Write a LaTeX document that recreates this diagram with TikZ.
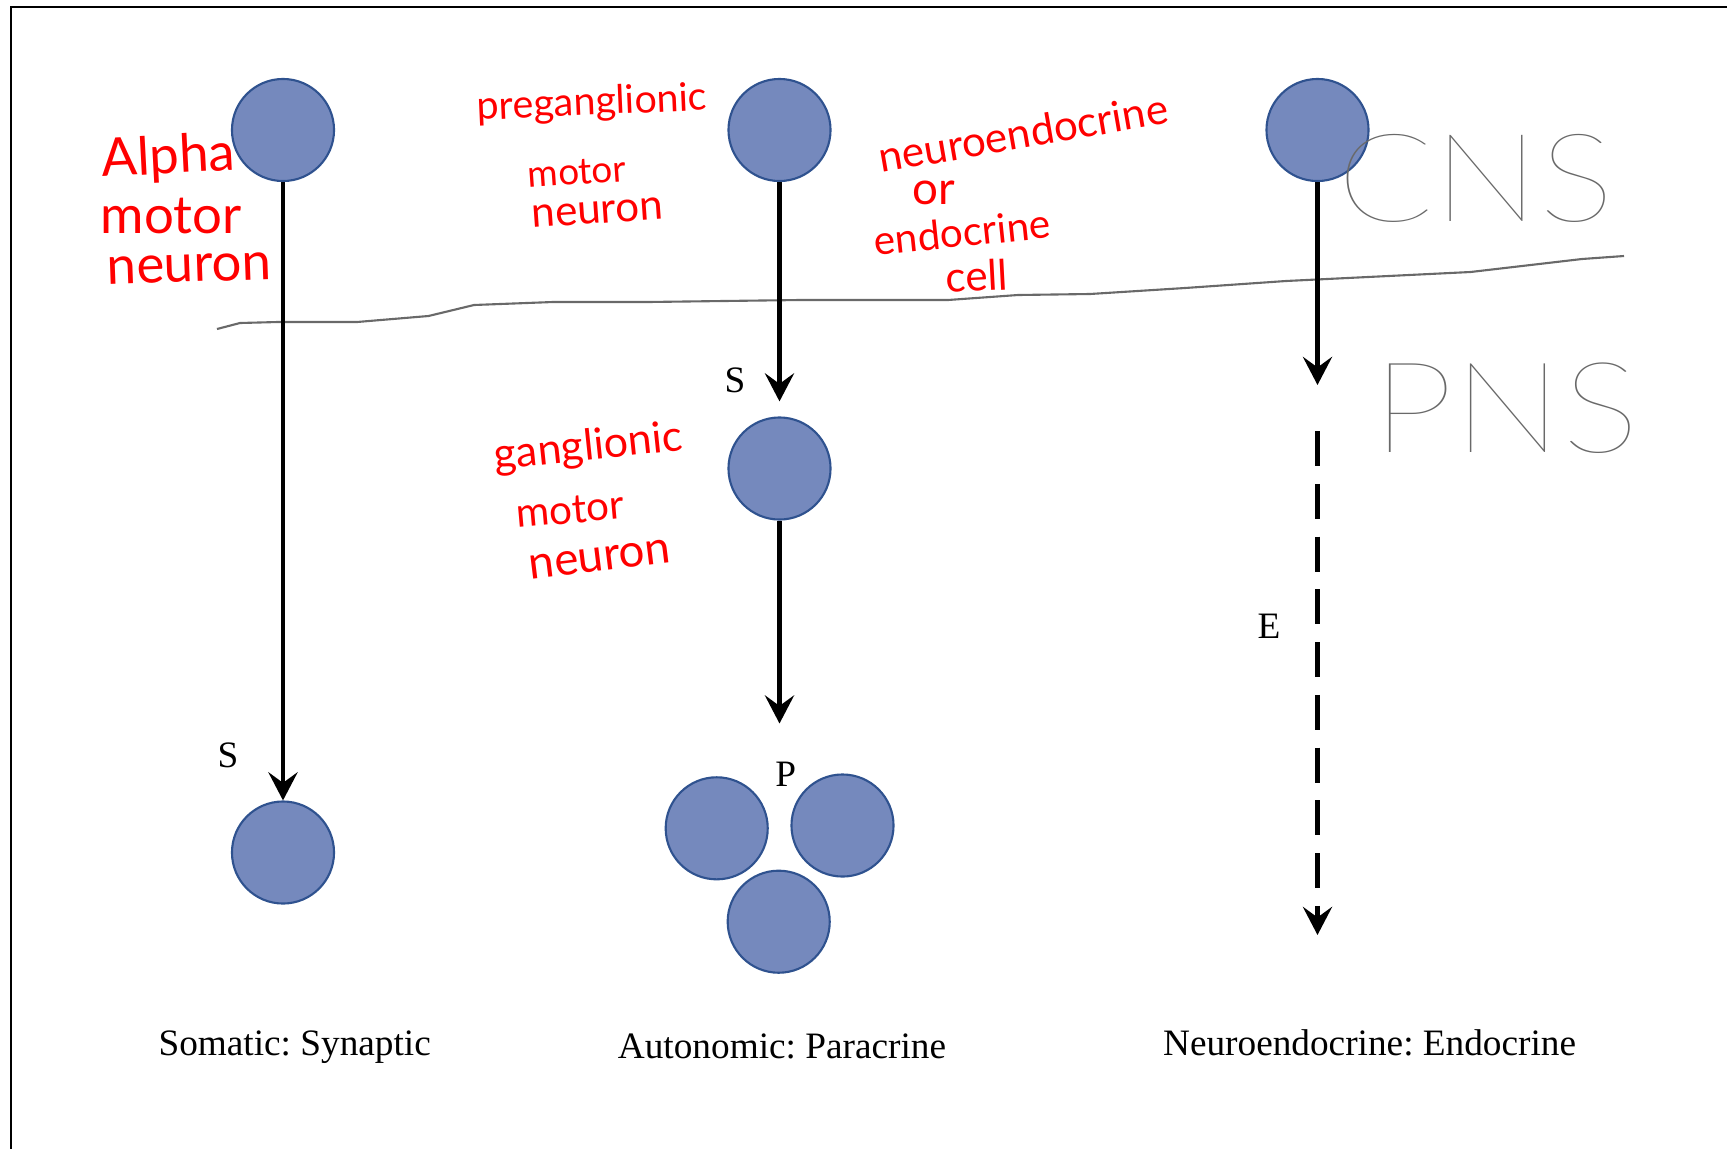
\documentclass[tikz,border=0pt]{standalone}
\usepackage{fontspec}
\setmainfont{Liberation Serif}
\newfontfamily\handfont{Lato}
\newfontfamily\thinfont{Lato Hairline}[FakeStretch=1.15]
\usetikzlibrary{arrows.meta,positioning}
\frenchspacing

\definecolor{cellfill}{RGB}{117,137,189}
\definecolor{cellline}{RGB}{47,82,143}
\definecolor{pengray}{RGB}{105,105,105}

\begin{document}
\begin{tikzpicture}[x=0.01cm, y=-0.01cm,
            cell/.style={circle, draw=cellline, fill=cellfill, line width=0.6pt, minimum size=1.02cm, inner sep=0pt},
            signal/.style={line width=1.3pt, -{Stealth[length=8pt, width=8.3pt, inset=3pt]}},
            lbl/.style={font=\fontsize{10.6}{13}\selectfont, inner sep=0pt},
            note/.style={text=red, anchor=base west, inner sep=0pt, font=\handfont\fontsize{#1}{#1}\selectfont},
            region/.style={text=pengray, anchor=base, inner sep=0pt, font=\thinfont\fontsize{#1}{#1}\selectfont}]
            \useasboundingbox (0,0) rectangle (1727,1148);
            \fill [white] (0,0) rectangle (1727,1148);
            \draw [line width=0.65pt] (1760,7) -- (11,7) -- (11,1180);

            % CNS / PNS border
            \draw [pengray, line width=0.6pt] (217,329) -- (240,323) -- (278,322) -- (357,322) -- (428.5,316) -- (474,305) -- (553,302) -- (648,302) -- (800,300) -- (948,300) -- (1018,295) -- (1090,294) -- (1185,288) -- (1286,281) -- (1470.5,272) -- (1582,259) -- (1624,256);

            \node (alpha) [cell] at (283,130) {};
            \node (muscle) [cell] at (283,852.5) {};
            \node (pregang) [cell] at (779.5,130) {};
            \node (gang) [cell] at (779.5,468.5) {};
            \node (target1) [cell] at (716.7,828.3) {};
            \node (target2) [cell] at (842.5,825.5) {};
            \node (target3) [cell] at (778.7,921.7) {};
            \node (neuroendo) [cell] at (1317.5,130) {};

            \coordinate (paraend) at (779.5,723.5);
            \coordinate (axonend) at (1317.5,385);
            \coordinate (bloodtop) at (1317.5,431);
            \coordinate (bloodend) at (1317.5,935);

            \draw [signal] (alpha) -- (muscle);
            \draw [signal, shorten >=0.15cm] (pregang) -- (gang);
            \draw [signal] (gang) -- (paraend);
            \draw [signal] (neuroendo) -- (axonend);
            \draw [signal, dash pattern=on 10pt off 5pt] (bloodtop) -- (bloodend);

            \node (synS) [lbl] at (228,755) {S};
            \node (gangS) [lbl] at (735,380) {S};
            \node (paraP) [lbl] at (785.7,774) {P};
            \node (endoE) [lbl] at (1269,626) {E};

            \node (somatic) [lbl, anchor=base] at (294.7,1055) {Somatic: Synaptic};
            \node (autonomic) [lbl, anchor=base] at (782,1058) {Autonomic: Paracrine};
            \node (endocrine) [lbl, anchor=base] at (1369.6,1055) {Neuroendocrine: Endocrine};

            \node (cns) [region=35] at (1476,221) {CNS};
            \node (pns) [region=36] at (1506,452) {PNS};

            % handwritten notes
            \node (alphaA) [note=15, rotate=3] at (102,177) {Alpha};
            \node (alphaB) [note=15] at (100,233) {motor};
            \node (alphaC) [note=15, rotate=2] at (107,285) {neuron};

            \node (preA) [note=11.2, rotate=2.5] at (477,120) {preganglionic};
            \node (preB) [note=10.5, rotate=4] at (528,188) {motor};
            \node (preC) [note=12, rotate=4] at (532,228) {neuron};

            \node (endoA) [note=12, rotate=9.8] at (881,173) {neuroendocrine};
            \node (endoB) [note=13] at (912,204) {or};
            \node (endoC) [note=11.5, rotate=6] at (875,256) {endocrine};
            \node (endoD) [note=12, rotate=3] at (946,293) {cell};

            \node (gangA) [note=12.2, rotate=6] at (495,470) {ganglionic};
            \node (gangB) [note=11.5, rotate=5] at (517,528) {motor};
            \node (gangC) [note=13, rotate=7] at (530,580) {neuron};
        \end{tikzpicture}
\end{document}
